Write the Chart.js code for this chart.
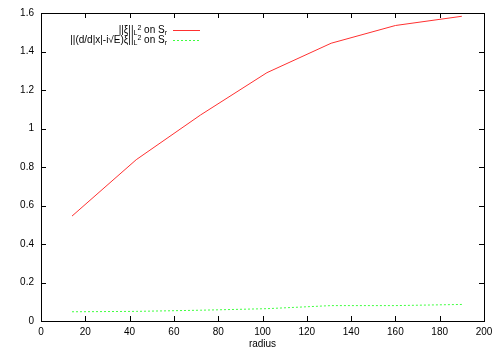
<!DOCTYPE html>
<html lang="en">
<head>
<meta charset="UTF-8" />
<title>norms vs radius</title>
<script src="https://cdn.jsdelivr.net/npm/chart.js"></script>
<style>
  html, body { margin: 0; padding: 0; background: #fff; }
  #wrap { width: 500px; height: 350px; }
</style>
</head>
<body>
<div id="wrap"><canvas id="plot"></canvas></div>
<script>
// values
const radius = [14, 43, 72, 102, 131, 160, 190];
const xiNorm = [0.545, 0.838, 1.07, 1.29, 1.443, 1.535, 1.583];
const derivNorm = [0.048, 0.050, 0.056, 0.064, 0.080, 0.080, 0.086];
const xTicks = [0, 20, 40, 60, 80, 100, 120, 140, 160, 180, 200];
const yTicks = [0, 0.2, 0.4, 0.6, 0.8, 1, 1.2, 1.4, 1.6];
const seriesLabels = ["||ξ||L² on Sr", "||(d/d|x|-i√E)ξ||L² on Sr"];

const FONT = "'Liberation Sans', Arial, sans-serif";

// legend text pieces: [text, style] 0 = normal, 1 = subscript, 2 = superscript on subscript
const legendRows = [
  [["||", 0], ["ξ", 0], ["||", 0], ["L", 1], ["2", 2], [" on S", 0], ["r", 1]],
  [["||(d/d|x|-i√E)", 0], ["ξ", 0], ["||", 0], ["L", 1], ["2", 2], [" on S", 0], ["r", 1]]
];

const gnuFrame = {
  id: "gnuFrame",
  afterDraw(chart) {
    const ctx = chart.ctx;
    const a = chart.chartArea;
    const xs = chart.scales.x, ys = chart.scales.y;
    ctx.save();
    ctx.strokeStyle = "#000";
    ctx.lineWidth = 1;
    ctx.strokeRect(Math.round(a.left) + 0.5, Math.round(a.top) + 0.5,
      Math.round(a.right - a.left), Math.round(a.bottom - a.top));
    const t = 5;
    ctx.beginPath();
    xs.ticks.forEach(tk => {
      const px = Math.round(xs.getPixelForValue(tk.value)) + 0.5;
      ctx.moveTo(px, a.bottom); ctx.lineTo(px, a.bottom - t);
      ctx.moveTo(px, a.top); ctx.lineTo(px, a.top + t);
    });
    ys.ticks.forEach(tk => {
      const py = Math.round(ys.getPixelForValue(tk.value)) + 0.5;
      ctx.moveTo(a.left, py); ctx.lineTo(a.left + t, py);
      ctx.moveTo(a.right, py); ctx.lineTo(a.right - t, py);
    });
    ctx.stroke();

    // legend
    const styles = {
      0: { size: 10, dy: 0 },
      1: { size: 7, dy: 3 },
      2: { size: 7, dy: -2 }
    };
    const textRight = 167;
    const rowY = [30, 40];
    ctx.textBaseline = "middle";
    ctx.fillStyle = "#000";
    legendRows.forEach((row, i) => {
      let w = 0;
      row.forEach(([txt, s]) => {
        ctx.font = styles[s].size + "px " + FONT;
        w += ctx.measureText(txt).width;
      });
      let x = textRight - w;
      row.forEach(([txt, s]) => {
        ctx.font = styles[s].size + "px " + FONT;
        ctx.fillText(txt, x, rowY[i] + styles[s].dy);
        x += ctx.measureText(txt).width;
      });
      const ds = chart.data.datasets[i];
      ctx.beginPath();
      ctx.strokeStyle = ds.borderColor;
      ctx.setLineDash(ds.borderDash || []);
      ctx.moveTo(173, rowY[i] + 0.5);
      ctx.lineTo(200, rowY[i] + 0.5);
      ctx.stroke();
      ctx.setLineDash([]);
    });
    ctx.restore();
  }
};

new Chart(document.getElementById("plot"), {
  type: "line",
  data: {
    datasets: [
      {
        label: seriesLabels[0],
        data: radius.map((r, i) => ({ x: r, y: xiNorm[i] })),
        borderColor: "#ff3030",
        borderWidth: 1,
        pointRadius: 0,
        tension: 0
      },
      {
        label: seriesLabels[1],
        data: radius.map((r, i) => ({ x: r, y: derivNorm[i] })),
        borderColor: "#40ff40",
        borderWidth: 1,
        borderDash: [2, 2],
        pointRadius: 0,
        tension: 0
      }
    ]
  },
  options: {
    responsive: true,
    maintainAspectRatio: false,
    animation: false,
    layout: { padding: { top: 12, right: 16, left: 0, bottom: 0 } },
    plugins: {
      legend: { display: false },
      tooltip: { enabled: false }
    },
    scales: {
      x: {
        type: "linear",
        min: 0,
        max: 200,
        afterBuildTicks: s => { s.ticks = xTicks.map(v => ({ value: v })); },
        afterFit: s => { s.height = 29; },
        grid: { display: false, drawTicks: false },
        border: { display: false },
        ticks: { color: "#000", padding: 5, maxRotation: 0, font: { family: FONT, size: 10 } },
        title: {
          display: true,
          text: "radius",
          color: "#000",
          padding: { top: 0, bottom: 0 },
          font: { family: FONT, size: 10 }
        }
      },
      y: {
        min: 0,
        max: 1.6,
        afterBuildTicks: s => { s.ticks = yTicks.map(v => ({ value: v })); },
        afterFit: s => { s.width = 41; },
        grid: { display: false, drawTicks: false },
        border: { display: false },
        ticks: {
          color: "#000",
          padding: 7,
          font: { family: FONT, size: 10 },
          callback: v => String(v)
        }
      }
    }
  },
  plugins: [gnuFrame]
});
</script>
</body>
</html>
